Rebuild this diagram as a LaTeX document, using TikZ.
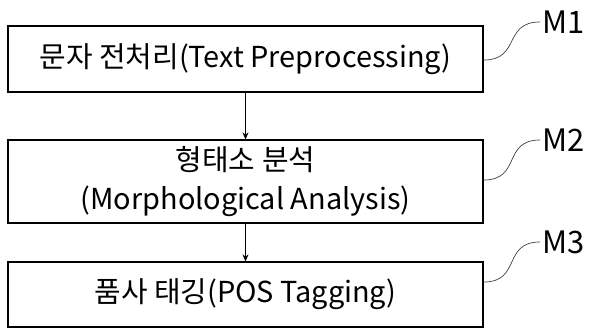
\documentclass[tikz,border=0pt]{standalone}
\usepackage{fontspec}
\setmainfont{Noto Sans CJK KR}
\usetikzlibrary{arrows.meta}

\tikzset{
    stepbox/.style={draw=black, line width=1.3pt, minimum width=475bp, inner sep=0pt, align=center, font=\fontsize{29}{40}\selectfont},
    leader/.style={draw=black!75, line width=.7pt},
    mark label/.style={inner sep=2pt, anchor=west, font=\fontsize{31}{34}\selectfont}
}

\begin{document}
\begin{tikzpicture}[x=1bp, y=-1bp]
    \useasboundingbox (0,0) rectangle (597,329);

    % Kaesten.
    \node[stepbox, minimum height=66bp] (b1) at (245.5,59) {문자 전처리(Text Preprocessing)};
    \node[stepbox, minimum height=83bp] (b2) at (245.5,181.5) {형태소 분석\\(Morphological Analysis)};
    \node[stepbox, minimum height=65bp] (b3) at (245.5,294.5) {품사 태깅(POS Tagging)};

    \draw[-{Stealth[length=7pt, width=6pt]}, line width=.6pt] (b1) -- (b2);
    \draw[-{Stealth[length=7pt, width=6pt]}, line width=.6pt] (b2) -- (b3);

    % Beschriftung.
    \node[mark label] (m1) at (540,22) {M1};
    \node[mark label] (m2) at (540,140) {M2};
    \node[mark label] (m3) at (540,242) {M3};

    \draw[leader] ([yshift=-1bp]b1.east) to[out=0, in=180, looseness=1.4] (m1.west);
    \draw[leader] ([yshift=1.5bp]b2.east) to[out=0, in=180, looseness=1.4] (m2.west);
    \draw[leader] ([yshift=12.5bp]b3.east) to[out=0, in=180, looseness=1.4] (m3.west);
\end{tikzpicture}
\end{document}
